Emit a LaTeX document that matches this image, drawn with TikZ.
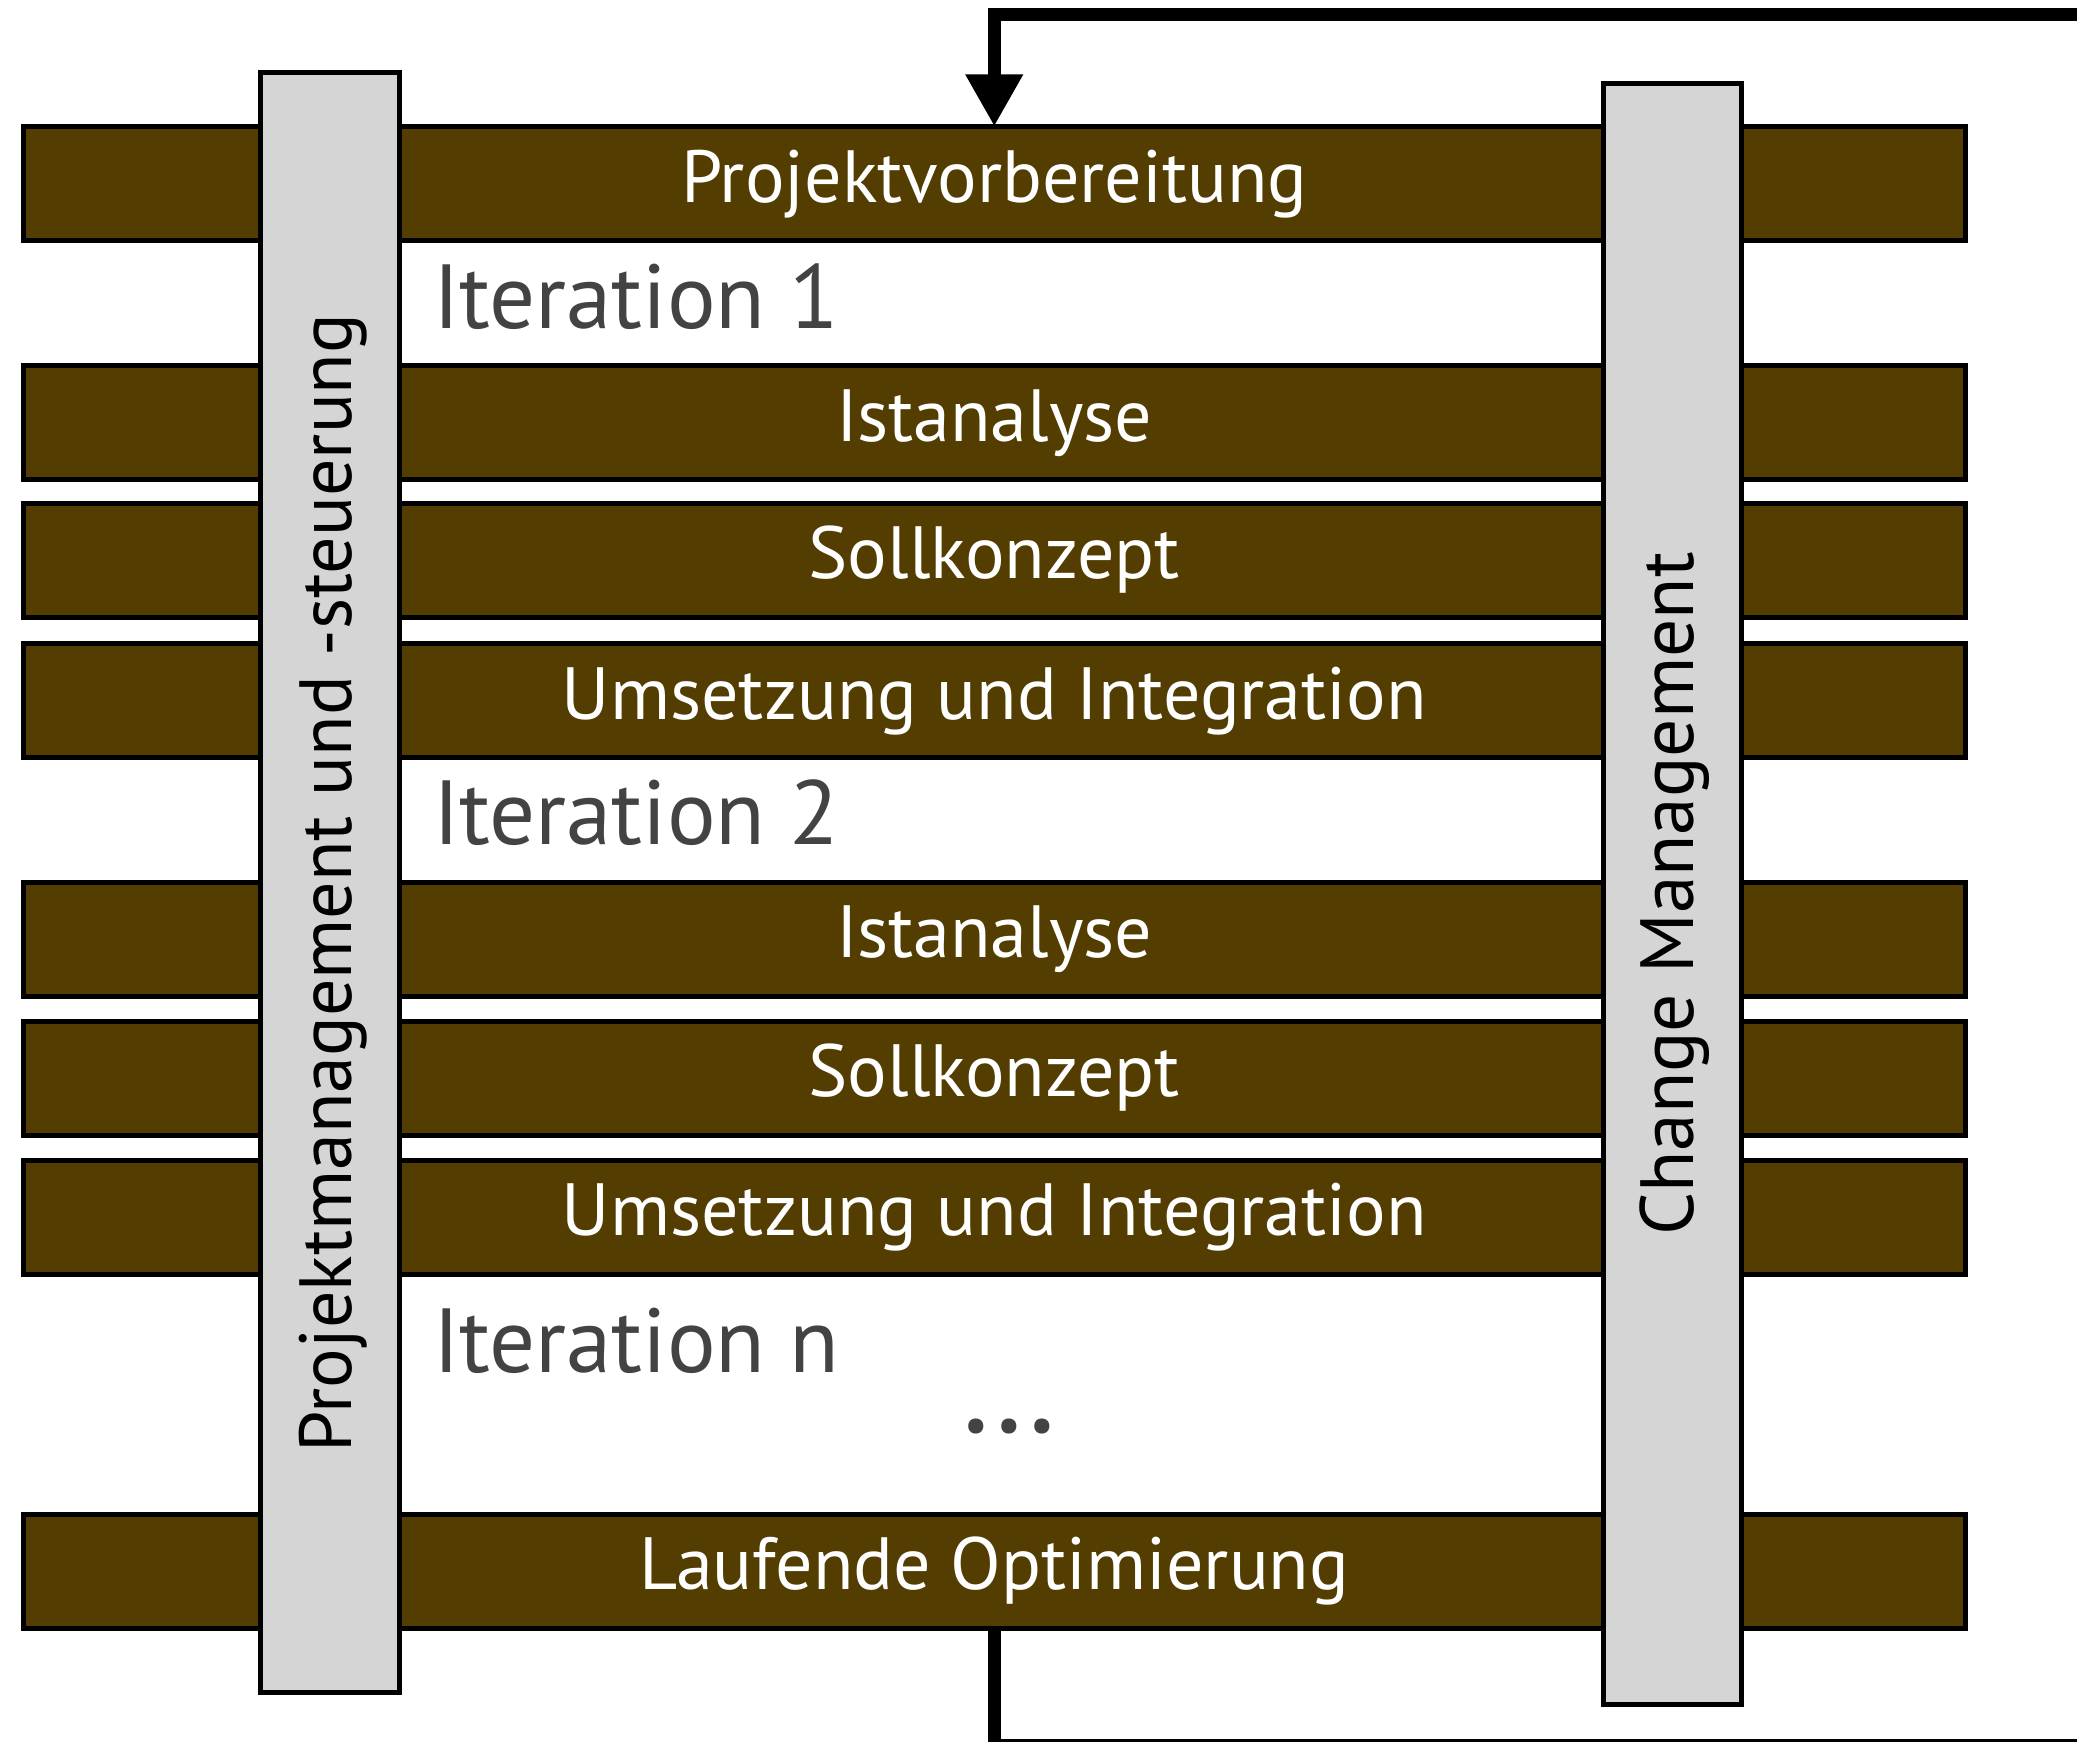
\documentclass[tikz,border=0pt]{standalone}
\usepackage{fontspec}
\setmainfont{PT Sans}
\usetikzlibrary{arrows.meta,calc}
\definecolor{barbrown}{RGB}{84,61,0}
\definecolor{colgray}{RGB}{213,213,213}
\definecolor{itergray}{RGB}{67,67,67}
\begin{document}
\begin{tikzpicture}[x=1pt,y=-1pt,
  phase/.style={draw=black,line width=5pt,fill=barbrown,minimum width=1941.5pt,
    minimum height=114pt,inner sep=0pt,outer sep=0pt},
  phaselabel/.style={text=white,font=\fontsize{74}{88}\selectfont,anchor=base,inner sep=0pt},
  pillar/.style={draw=black,line width=5pt,fill=colgray,inner sep=0pt,outer sep=0pt},
  pillarlabel/.style={font=\fontsize{74}{88}\selectfont,rotate=90,anchor=base,inner sep=0pt},
  iterlabel/.style={text=itergray,font=\fontsize{91}{109}\selectfont,anchor=base west,inner sep=0pt},
  loopline/.style={line width=13pt}
]
\useasboundingbox (0,0) rectangle (2077,1742);

% phase bars
\node[phase] (b1) at (994.25,183.5) {};
\node[phase] (b2) at (994.25,422.5) {};
\node[phase] (b3) at (994.25,560.3) {};
\node[phase] (b4) at (994.25,700.7) {};
\node[phase] (b5) at (994.25,939.1) {};
\node[phase] (b6) at (994.25,1078.2) {};
\node[phase] (b7) at (994.25,1217.3) {};
\node[phase] (b8) at (994.25,1571) {};

% bar captions
\node[phaselabel] (t1) at ($(b1.center)+(0,18.5)$) {Projektvorbereitung};
\node[phaselabel] (t2) at ($(b2.center)+(0,18.5)$) {Istanalyse};
\node[phaselabel] (t3) at ($(b3.center)+(0,18.5)$) {Sollkonzept};
\node[phaselabel] (t4) at ($(b4.center)+(0,18.5)$) {Umsetzung und Integration};
\node[phaselabel] (t5) at ($(b5.center)+(0,18.5)$) {Istanalyse};
\node[phaselabel] (t6) at ($(b6.center)+(0,18.5)$) {Sollkonzept};
\node[phaselabel] (t7) at ($(b7.center)+(0,18.5)$) {Umsetzung und Integration};
\node[phaselabel] (t8) at ($(b8.center)+(0,18.5)$) {Laufende Optimierung};

% vertical pillars across all phases
\node[pillar,minimum width=139pt,minimum height=1619pt] (pm) at (330,882.5) {};
\node[pillar,minimum width=138pt,minimum height=1620pt] (cm) at (1672,894) {};
\node[pillarlabel] (pmt) at (351,883) {Projektmanagement und -steuerung};
\node[pillarlabel,font=\fontsize{75.5}{90}\selectfont] (cmt) at (1693,894) {Change Management};

% iteration headings
\node[iterlabel] (i1) at (433,328) {Iteration 1};
\node[iterlabel] (i2) at (433,844) {Iteration 2};
\node[iterlabel] (in) at (433,1372) {Iteration n};
\node[text=itergray,font=\fontsize{130}{150}\selectfont,anchor=base,inner sep=0pt] (dots) at (1009,1432.5) {…};

% feedback loop from the last phase back to the first
\coordinate (farbot) at (2140,1745.5);
\coordinate (fartop) at (2140,15);
\draw[loopline,-{Triangle[width=54pt,length=52pt]}]
  (b8.south) |- (farbot) -- (fartop) -| (b1.north);
\end{tikzpicture}
\end{document}
